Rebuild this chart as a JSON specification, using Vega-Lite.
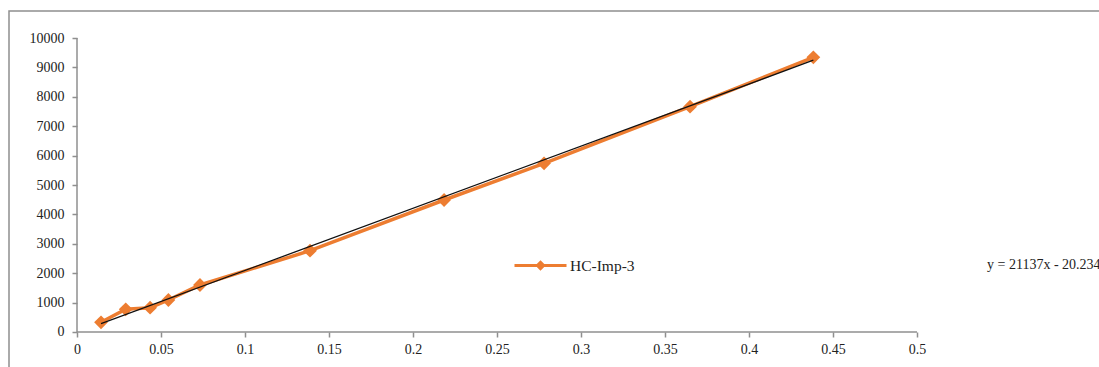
{
  "$schema": "https://vega.github.io/schema/vega-lite/v6.json",
  "width": 1090,
  "height": 356,
  "autosize": {"type": "none"},
  "padding": {"left": 9, "top": 11, "right": 0, "bottom": 0},
  "background": "white",
  "config": {
    "font": "Liberation Serif",
    "view": {"stroke": "#8f8f8f", "strokeWidth": 1.5, "strokeDash": [1090, 1446, 356]},
    "axis": {"labelOverlap": false}
  },
  "datasets": {
    "pts": [
      {"x": 0.0143, "y": 330, "s": "HC-Imp-3"},
      {"x": 0.029, "y": 772, "s": "HC-Imp-3"},
      {"x": 0.0435, "y": 827, "s": "HC-Imp-3"},
      {"x": 0.0544, "y": 1088, "s": "HC-Imp-3"},
      {"x": 0.0732, "y": 1599, "s": "HC-Imp-3"},
      {"x": 0.1387, "y": 2765, "s": "HC-Imp-3"},
      {"x": 0.2185, "y": 4490, "s": "HC-Imp-3"},
      {"x": 0.278, "y": 5738, "s": "HC-Imp-3"},
      {"x": 0.3649, "y": 7663, "s": "HC-Imp-3"},
      {"x": 0.4383, "y": 9343, "s": "HC-Imp-3"}
    ],
    "trend": [
      {"x": 0.0143, "y": 282},
      {"x": 0.4383, "y": 9244}
    ],
    "axes": [
      {"x": 0, "y": 0, "x2": 0.5, "y2": 0},
      {"x": 0, "y": 0, "x2": 0, "y2": 10000}
    ],
    "eq": [
      {"x": 0.5417, "y": 2279, "t": "y = 21137x - 20.234"}
    ]
  },
  "encoding": {
    "x": {
      "field": "x", "type": "quantitative",
      "scale": {"domain": [-0.0404762, 0.6083333], "nice": false, "zero": false},
      "axis": {
        "title": null, "offset": -35, "domain": false, "grid": false,
        "values": [0, 0.05, 0.1, 0.15, 0.2, 0.25, 0.3, 0.35, 0.4, 0.45, 0.5],
        "format": "~g", "tickSize": 5, "tickColor": "#8f8f8f", "tickWidth": 1.5,
        "labelFontSize": 14, "labelColor": "#222222", "labelPadding": 5, "labelFont": "Liberation Serif",
        "labelOverlap": false
      }
    },
    "y": {
      "field": "y", "type": "quantitative",
      "scale": {"domain": [-1190.5, 10918.4], "nice": false, "zero": false},
      "axis": {
        "title": null, "offset": -68, "domain": false, "grid": false,
        "values": [0, 1000, 2000, 3000, 4000, 5000, 6000, 7000, 8000, 9000, 10000],
        "format": "d", "tickSize": 5, "tickColor": "#8f8f8f", "tickWidth": 1.5,
        "labelFontSize": 14, "labelColor": "#222222", "labelPadding": 8, "labelFont": "Liberation Serif",
        "labelOverlap": false
      }
    }
  },
  "layer": [
    {
      "data": {"name": "axes"},
      "mark": {"type": "rule", "color": "#8f8f8f", "strokeWidth": 1.5},
      "encoding": {
        "x2": {"field": "x2"},
        "y2": {"field": "y2"}
      }
    },
    {
      "data": {"name": "pts"},
      "mark": {"type": "line", "strokeWidth": 3.5},
      "encoding": {
        "color": {
          "field": "s", "type": "nominal",
          "scale": {"range": ["#ED7D31"]},
          "legend": {
            "title": null, "orient": "none", "legendX": 504, "legendY": 227,
            "padding": 0,
            "symbolType": "M-1,0H1M0,-0.12L0.12,0L0,0.12L-0.12,0Z",
            "symbolSize": 2704, "symbolStrokeWidth": 3,
            "symbolFillColor": "#ED7D31", "symbolStrokeColor": "#ED7D31",
            "labelFontSize": 15.5, "labelColor": "#222222", "labelFont": "Liberation Serif",
            "labelOffset": 2
          }
        }
      }
    },
    {
      "data": {"name": "pts"},
      "mark": {"type": "point", "shape": "diamond", "filled": true, "size": 190, "color": "#ED7D31", "opacity": 1},
      "encoding": {}
    },
    {
      "data": {"name": "trend"},
      "mark": {"type": "line", "color": "#111111", "strokeWidth": 1.3},
      "encoding": {}
    },
    {
      "data": {"name": "eq"},
      "mark": {"type": "text", "align": "left", "baseline": "middle", "fontSize": 14, "color": "#222222", "font": "Liberation Serif"},
      "encoding": {
        "text": {"field": "t"}
      }
    }
  ]
}
